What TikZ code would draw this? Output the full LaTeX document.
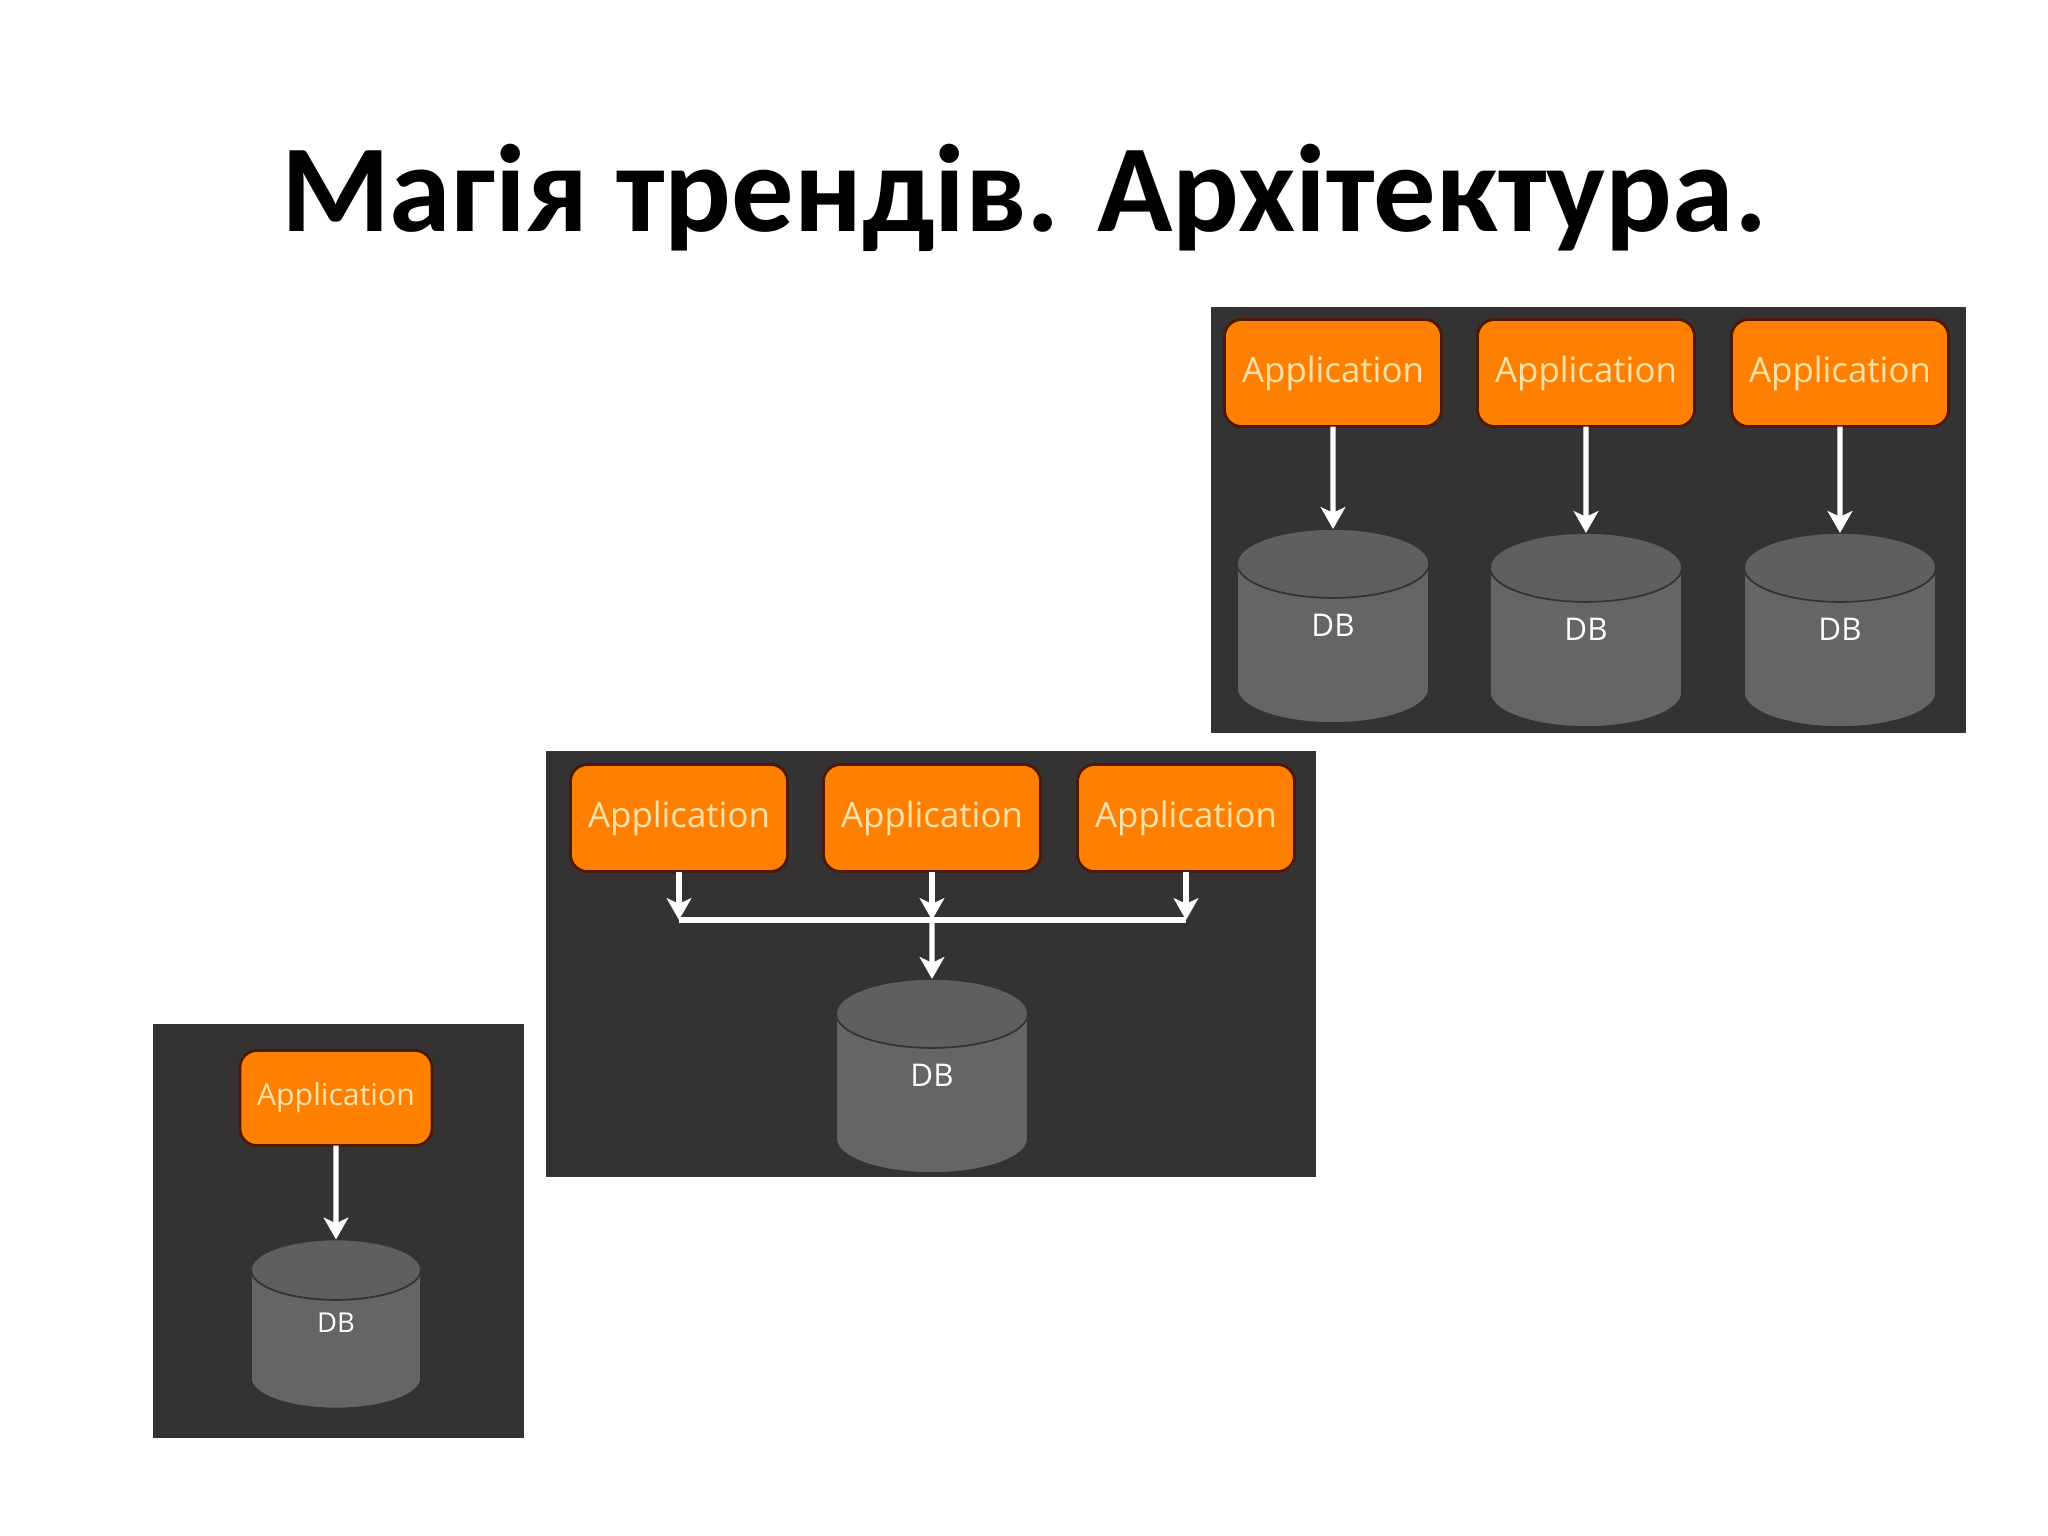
\documentclass[tikz,border=0pt]{standalone}
\usepackage{fontspec}
\setmainfont{Carlito}
\newfontfamily\labelfont{Open Sans}
\usetikzlibrary{arrows.meta}
\usetikzlibrary{shapes.geometric}
\definecolor{panelgray}{HTML}{343233}
\definecolor{apporange}{HTML}{FF8000}
\definecolor{appedge}{HTML}{4A1A05}
\definecolor{apptext}{HTML}{FFE3AE}
\definecolor{dbbody}{HTML}{666566}
\definecolor{dbtop}{HTML}{605F60}
\definecolor{dbedge}{HTML}{343233}
\tikzset{
	panel/.style={fill=panelgray,draw=none},
	appbox/.style={rectangle,rounded corners=0.17cm,draw=appedge,line width=0.8pt,fill=apporange,text=apptext,font=\labelfont\fontsize{9.9}{12}\selectfont,minimum width=2.17cm,minimum height=1.07cm,inner sep=0pt,outer sep=0pt},
	dbcyl/.style={cylinder,shape border rotate=90,aspect=1.6,anchor=shape center,draw=dbedge,line width=0.5pt,cylinder uses custom fill,cylinder body fill=dbbody,cylinder end fill=dbtop,text=white,font=\labelfont\fontsize{8.9}{11}\selectfont,text height=0.25cm,text depth=0.4cm,minimum width=1.92cm,minimum height=1.94cm,inner sep=0pt,outer sep=0pt},
	wire/.style={white,line width=1.5pt},
	wirearrow/.style={wire,-{Stealth[length=6.2pt,width=7pt,inset=1.6pt]}},
}
\begin{document}
\begin{tikzpicture}[x=0.01cm,y=-0.01cm]
	\useasboundingbox (0,0) rectangle (2048,1536);
	\node[font=\bfseries\fontsize{35.4}{40}\selectfont] (title) at (1024,198) {Магія трендів. Архітектура.};
	% three apps, one db each
	\fill[panel] (1211,307) rectangle (1966,733);
	\node[appbox] (appc1) at (1333,373) {Application};
	\node[appbox] (appc2) at (1586,373) {Application};
	\node[appbox] (appc3) at (1840,373) {Application};
	\node[dbcyl] (dbc1) at (1333,626) {DB};
	\node[dbcyl] (dbc2) at (1586,630) {DB};
	\node[dbcyl] (dbc3) at (1840,630) {DB};
	\draw[wirearrow] (appc1) -- (dbc1);
	\draw[wirearrow] (appc2) -- (dbc2);
	\draw[wirearrow] (appc3) -- (dbc3);
	% three apps, shared db
	\fill[panel] (546,751) rectangle (1316,1177);
	\node[appbox] (appb1) at (679,818) {Application};
	\node[appbox] (appb2) at (932,818) {Application};
	\node[appbox] (appb3) at (1186,818) {Application};
	\node[dbcyl] (dbb) at (932,1076) {DB};
	\coordinate (busl) at (679,920);
	\coordinate (busm) at (932,920);
	\coordinate (busr) at (1186,920);
	\draw[wirearrow] (appb1) -- (busl);
	\draw[wirearrow] (appb2) -- (busm);
	\draw[wirearrow] (appb3) -- (busr);
	\draw[wire,line cap=square] (busl) -- (busr);
	\draw[wirearrow] (busm) -- (dbb);
	% one app, one db
	\fill[panel] (153,1024) rectangle (524,1438);
	\node[appbox,minimum width=1.92cm,minimum height=0.95cm,font=\labelfont\fontsize{8.6}{10}\selectfont] (appa) at (336,1098) {Application};
	\node[dbcyl,minimum width=1.70cm,minimum height=1.69cm,font=\labelfont\fontsize{7.8}{10}\selectfont] (dba) at (336,1324) {DB};
	\draw[wirearrow] (appa) -- (dba);
\end{tikzpicture}
\end{document}
